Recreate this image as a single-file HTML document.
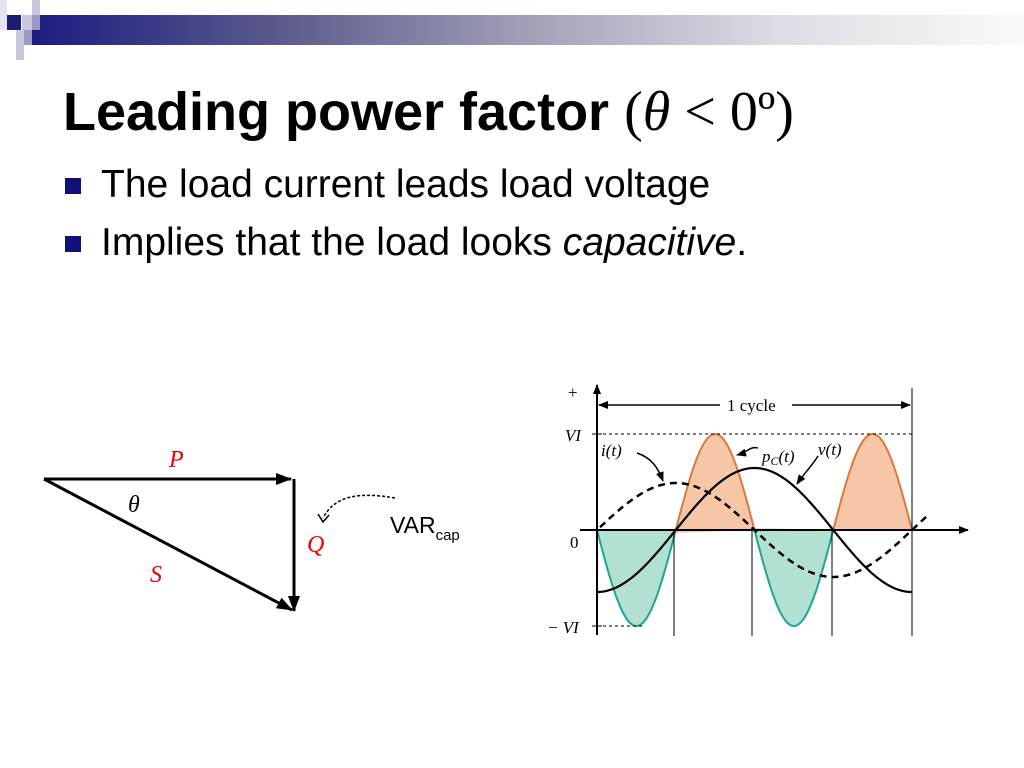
<!DOCTYPE html>
<html><head><meta charset="utf-8"><style>
html,body{margin:0;padding:0;background:#fff}
#pg{position:relative;width:1024px;height:768px;overflow:hidden;font-family:"Liberation Sans",sans-serif}
.abs{position:absolute}
</style></head><body><div id="pg">
<div class="abs" style="left:30px;top:15px;width:994px;height:30px;background:linear-gradient(to right,#1c1c82 0%,#5a5a8c 25%,#a0a0b8 50%,#dcdce4 75%,#fafafa 100%)"></div>
<div class="abs" style="left:0;top:0;width:7px;height:30px;background:#e4e4ee"></div>
<div class="abs" style="left:7px;top:15px;width:14px;height:15px;background:#1c1c78"></div>
<div class="abs" style="left:22px;top:15px;width:10px;height:15px;background:#c8c8dc"></div>
<div class="abs" style="left:32px;top:0;width:8px;height:30px;background:#c8c8dc"></div>
<div class="abs" style="left:16px;top:30px;width:8px;height:30px;background:#c8c8dc"></div>
<div class="abs" style="left:24px;top:30px;width:8px;height:15px;background:#9a9ac4"></div>
<div class="abs" style="left:32px;top:15px;width:8px;height:15px;background:#9a9ac4"></div>

<div class="abs" style="left:63px;top:80px;font-size:54px;font-weight:bold;white-space:nowrap;line-height:64px">Leading power factor <span style="font-family:'Liberation Serif',serif;font-weight:normal;font-size:56px">(<i>θ</i> &lt; 0º)</span></div>
<div class="abs" style="left:65px;top:178px;width:16px;height:16px;background:#101078"></div>
<div class="abs" style="left:101px;top:162px;font-size:39px;white-space:nowrap;line-height:46px">The load current leads load voltage</div>
<div class="abs" style="left:65px;top:236px;width:16px;height:16px;background:#101078"></div>
<div class="abs" style="left:101px;top:220px;font-size:39px;white-space:nowrap;line-height:46px">Implies that the load looks <i>capacitive</i>.</div>

<svg class="abs" style="left:0;top:0" width="1024" height="768">
<defs><marker id="ar" markerWidth="10" markerHeight="8" refX="9" refY="4" orient="auto-start-reverse" markerUnits="userSpaceOnUse"><path d="M0,0L10,4L0,8z" fill="#000"/></marker>
<marker id="a2" markerWidth="16" markerHeight="12" refX="15" refY="6" orient="auto" markerUnits="userSpaceOnUse"><path d="M0,0L16,6L0,12z" fill="#000"/></marker></defs>
<line x1="44" y1="479" x2="291" y2="479" stroke="#000" stroke-width="3" marker-end="url(#a2)"/>
<line x1="294" y1="479" x2="294" y2="611" stroke="#000" stroke-width="3" marker-end="url(#a2)"/>
<line x1="44" y1="479" x2="292" y2="610" stroke="#000" stroke-width="3" marker-end="url(#a2)"/>
<path d="M395,498 C360,492 335,495 323,518" fill="none" stroke="#000" stroke-width="1.5" stroke-dasharray="3,2"/>
<path d="M318,514 L323,522 L329,515" fill="none" stroke="#000" stroke-width="1.5"/>
<g font-family="Liberation Serif,serif" font-style="italic" font-size="24" fill="#e00">
<text x="169" y="467">P</text><text x="307" y="552">Q</text><text x="150" y="582">S</text></g>
<text x="128" y="512" font-family="Liberation Serif,serif" font-style="italic" font-size="24">θ</text>
<text x="390" y="533" font-size="23">VAR<tspan font-size="15" dy="7">cap</tspan></text>

<g id="plot"></g>
<line x1="597" y1="635" x2="597" y2="385" stroke="#000" stroke-width="2" marker-end="url(#ar)"/>
<line x1="580" y1="530" x2="968" y2="530" stroke="#000" stroke-width="2" marker-end="url(#ar)"/>
<line x1="597" y1="434" x2="912" y2="434" stroke="#000" stroke-dasharray="3,3"/>
<line x1="597" y1="626" x2="645" y2="626" stroke="#000" stroke-dasharray="3,3"/>
<line x1="592" y1="434" x2="602" y2="434" stroke="#000"/><line x1="592" y1="626" x2="602" y2="626" stroke="#000"/>
<line x1="912" y1="388" x2="912" y2="636" stroke="#000"/>
<line x1="674" y1="530" x2="674" y2="636" stroke="#000"/><line x1="752" y1="530" x2="752" y2="636" stroke="#000"/><line x1="832" y1="530" x2="832" y2="636" stroke="#000"/>
<line x1="599" y1="405" x2="720" y2="405" stroke="#000" stroke-width="1.5" marker-start="url(#ar)"/>
<line x1="792" y1="405" x2="910" y2="405" stroke="#000" stroke-width="1.5" marker-end="url(#ar)"/>
<g font-family="Liberation Serif,serif" font-size="17">
<text x="727" y="411">1 cycle</text>
<text x="568" y="398">+</text>
<text x="565" y="441" font-style="italic">VI</text>
<text x="570" y="548">0</text>
<text x="547" y="633" font-style="italic">− VI</text>
<text x="601" y="456" font-style="italic">i(t)</text>
<text x="762" y="462" font-style="italic">p<tspan font-size="12" dy="3">C</tspan><tspan dy="-3">(t)</tspan></text>
<text x="818" y="455" font-style="italic">v(t)</text>
</g>
<path d="M637,453 C652,458 658,468 663,481" fill="none" stroke="#000" stroke-width="1.5" marker-end="url(#ar)"/>
<path d="M758,448 C750,446 748,452 737,455" fill="none" stroke="#000" stroke-width="1.5" marker-end="url(#ar)"/>
<path d="M818,456 C812,466 805,472 797,484" fill="none" stroke="#000" stroke-width="1.5" marker-end="url(#ar)"/>
</svg>
<script>
(function(){
var x0=597,T=315,y0=530,out='';
function P(f,a,b){var s='';for(var x=a;x<=b;x+=1){s+=(x==a?'M':'L')+x+','+(y0-f(x)).toFixed(1);}return s;}
var v=function(x){return -62*Math.cos(2*Math.PI*(x-x0)/T)};
var i=function(x){return 47*Math.sin(2*Math.PI*(x-x0)/T)};
var p=function(x){return -96*Math.sin(4*Math.PI*(x-x0)/T)};
var segs=[[597,674.5,'#9fd8c8','#1aa890'],[674.5,754,'#f5b890','#d87a40'],[754,833,'#9fd8c8','#1aa890'],[833,912,'#f5b890','#d87a40']];
segs.forEach(function(s){var d=P(p,Math.round(s[0]),Math.round(s[1]));out+='<path d="'+d+'L'+Math.round(s[1])+','+y0+'Z" fill="'+s[2]+'" fill-opacity="0.8"/><path d="'+d+'" fill="none" stroke="'+s[3]+'" stroke-width="2"/>';});
out+='<path d="'+P(i,600,928)+'" fill="none" stroke="#000" stroke-width="2.5" stroke-dasharray="7,5"/>';
out+='<path d="'+P(v,597,912)+'" fill="none" stroke="#000" stroke-width="2.2"/>';
document.getElementById('plot').innerHTML=out;
})();
</script>
</div></body></html>
